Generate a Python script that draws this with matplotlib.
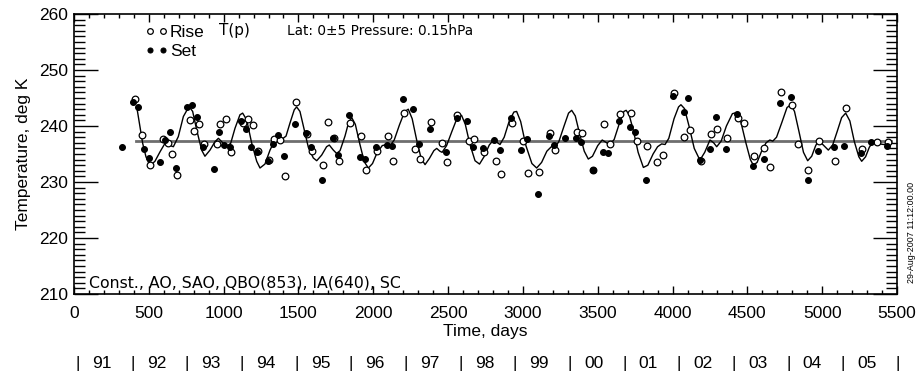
import matplotlib
matplotlib.use("Agg")
import matplotlib.pyplot as plt
import matplotlib.transforms as mtransforms
from matplotlib.ticker import MultipleLocator

# ---------------- data ----------------
rise_days = [410, 452, 510, 593, 630, 655, 690, 775, 804, 838, 869, 953, 978, 1014, 1049,
             1132, 1161, 1194, 1232, 1305, 1336, 1377, 1412, 1484, 1555, 1593, 1662, 1700,
             1737, 1773, 1844, 1918, 1951, 2023, 2098, 2134, 2203, 2277, 2312, 2383, 2459,
             2493, 2562, 2637, 2675, 2742, 2818, 2856, 2927, 2998, 3036, 3108, 3179, 3217,
             3361, 3397, 3471, 3542, 3580, 3649, 3722, 3760, 3827, 3898, 3934, 4010, 4079,
             4117, 4188, 4259, 4295, 4366, 4437, 4475, 4544, 4613, 4651, 4722, 4798, 4836,
             4907, 4976, 5085, 5157, 5264, 5368, 5440]
rise_temp = [244.8, 238.4, 233.1, 237.7, 236.9, 235.0, 231.2, 241.1, 239.1, 240.3, 236.7,
             236.7, 240.3, 241.2, 235.4, 240.5, 241.3, 240.2, 235.6, 233.9, 237.7, 237.5,
             231.0, 244.2, 238.6, 235.6, 233.0, 240.7, 237.9, 233.8, 240.5, 238.2, 232.1,
             235.5, 238.3, 233.8, 242.3, 235.9, 234.1, 240.7, 236.9, 233.5, 242.0, 237.4,
             237.6, 235.3, 233.8, 231.4, 240.6, 237.4, 231.6, 231.7, 238.8, 235.8, 239.0,
             238.8, 232.2, 240.4, 236.8, 242.2, 242.3, 237.3, 236.4, 233.6, 234.9, 245.9,
             238.1, 239.2, 233.8, 238.6, 239.4, 237.8, 241.4, 240.6, 234.7, 236.1, 232.7,
             246.1, 243.8, 236.8, 232.2, 237.3, 233.7, 243.3, 235.9, 237.2, 237.2]

set_days = [321, 392, 428, 468, 501, 575, 611, 644, 682, 753, 789, 822, 860, 933, 969, 1005,
            1042, 1114, 1149, 1185, 1223, 1299, 1330, 1365, 1403, 1475, 1548, 1584, 1655,
            1733, 1764, 1838, 1909, 1947, 2020, 2089, 2127, 2196, 2268, 2306, 2377, 2486,
            2557, 2629, 2666, 2735, 2809, 2847, 2920, 2990, 3025, 3099, 3172, 3208, 3279,
            3355, 3388, 3466, 3533, 3569, 3644, 3713, 3747, 3820, 4001, 4074, 4105, 4183,
            4250, 4288, 4359, 4428, 4538, 4609, 4718, 4791, 4903, 4972, 5079, 5148, 5257,
            5324, 5433]
set_temp = [236.3, 244.2, 243.4, 235.9, 234.3, 233.5, 237.5, 239.0, 232.5, 243.4, 243.7,
            241.6, 236.3, 232.4, 238.95, 236.6, 236.3, 240.9, 239.5, 236.2, 235.3, 233.7,
            236.8, 238.4, 234.6, 240.4, 238.7, 236.3, 230.4, 237.8, 234.85, 241.9, 234.5,
            234.1, 236.2, 236.6, 236.5, 244.9, 243.05, 236.7, 239.4, 235.3, 241.5, 240.9,
            236.3, 236.1, 237.5, 235.8, 241.4, 235.7, 237.7, 227.9, 238.3, 236.6, 237.9,
            237.8, 237.2, 232.2, 235.3, 235.1, 240.9, 239.9, 239.0, 230.3, 245.4, 242.5,
            245.0, 233.95, 235.9, 241.6, 235.9, 242.2, 232.9, 234.1, 244.1, 245.25, 230.3,
            235.6, 236.3, 236.5, 235.2, 237.2, 236.45]

fit_days = [423, 441, 459, 481, 508, 541, 575, 608, 624, 648, 664, 697, 731, 769, 793, 820,
            853, 875, 909, 942, 965, 998, 1020, 1047, 1076, 1109, 1127, 1154, 1187, 1221,
            1243, 1276, 1310, 1343, 1365, 1388, 1417, 1443, 1472, 1488, 1510, 1537, 1566,
            1599, 1622, 1655, 1688, 1706, 1733, 1755, 1778, 1811, 1835, 1856, 1880, 1910,
            1940, 1967, 1995, 2025, 2060, 2089, 2115, 2140, 2175, 2210, 2234, 2260, 2290,
            2320, 2346, 2375, 2405, 2424, 2445, 2460, 2490, 2525, 2560, 2590, 2615, 2645,
            2680, 2710, 2740, 2775, 2807, 2830, 2847, 2875, 2910, 2940, 2958, 2985, 3020,
            3060, 3092, 3125, 3160, 3190, 3214, 3240, 3275, 3305, 3326, 3350, 3380, 3410,
            3437, 3465, 3500, 3530, 3560, 3582, 3610, 3645, 3675, 3690, 3710, 3740, 3770,
            3805, 3835, 3870, 3900, 3927, 3950, 3975, 4010, 4040, 4056, 4080, 4110, 4145,
            4183, 4215, 4250, 4275, 4295, 4325, 4360, 4400, 4428, 4455, 4490, 4520, 4540,
            4565, 4595, 4625, 4650, 4670, 4695, 4730, 4765, 4791, 4815, 4845, 4875, 4903,
            4930, 4955, 4974, 5000, 5041, 5070, 5100, 5130, 5157, 5185, 5215, 5245, 5264,
            5290, 5315, 5340, 5360, 5385, 5410, 5442]
fit_temp = [242.8, 239.9, 236.9, 234.5, 232.9, 233.7, 235.4, 236.9, 237.2, 236.45, 236.3,
            238.1, 241.7, 243.5, 242.6, 239.3, 235.7, 234.6, 235.7, 237.2, 237.8, 236.9,
            236.4, 236.9, 239.6, 242.0, 242.3, 241.1, 237.0, 233.7, 232.5, 233.2, 235.7,
            237.5, 237.9, 237.6, 238.2, 240.5, 242.9, 243.4, 242.6, 239.5, 236.2, 234.3,
            233.8, 234.8, 236.3, 236.6, 235.7, 235.1, 235.6, 238.2, 240.6, 241.5, 240.3,
            236.8, 233.6, 232.5, 233.3, 235.2, 236.5, 236.7, 236.6, 237.5, 240.2, 242.6,
            243.0, 241.3, 237.5, 234.2, 233.1, 234.2, 235.6, 236.0, 235.5, 235.3, 236.5,
            239.0, 241.4, 241.9, 240.3, 236.8, 233.8, 233.2, 234.5, 236.6, 237.6, 237.0,
            236.7, 238.0, 241.0, 242.5, 242.6, 240.8, 236.5, 233.3, 232.5, 233.5, 235.5,
            236.3, 236.2, 237.2, 240.0, 242.3, 242.8, 241.8, 238.5, 235.5, 234.1, 234.6,
            236.5, 237.5, 237.0, 236.7, 237.6, 240.5, 242.6, 242.8, 242.0, 239.0, 235.3,
            232.6, 233.0, 235.0, 236.3, 236.8, 236.7, 237.8, 241.3, 243.4, 243.8, 243.1,
            240.0, 236.0, 233.9, 235.3, 237.5, 237.0, 236.3, 237.3, 240.0, 242.2, 242.4,
            240.9, 237.0, 234.0, 233.0, 233.5, 235.5, 237.0, 237.5, 237.3, 238.0, 240.6,
            243.3, 243.8, 242.6, 239.0, 235.3, 233.8, 234.6, 236.4, 237.4, 236.8, 235.7,
            236.6, 239.0, 241.5, 242.3, 240.9, 237.2, 234.5, 233.7, 234.5, 236.2, 237.2,
            237.3, 236.8, 236.7, 236.8]

mean_days = [415, 5460]
mean_temp = [237.3, 237.3]

year_labels = ["91", "92", "93", "94", "95", "96", "97", "98", "99", "00", "01", "02",
               "03", "04", "05"]
year_start_day = 25
year_len = 365.25

# ---------------- figure ----------------
plt.rcParams['font.family'] = ['Liberation Sans', 'DejaVu Sans']
fig = plt.figure(figsize=(9.19, 3.71), dpi=100)
ax = fig.add_axes([74/919, 1-294/371, (897-74)/919, (294-14)/371])

ax.plot(mean_days, mean_temp, color='#6e6e6e', lw=2.0, zorder=1)
ax.plot(fit_days, fit_temp, color='black', lw=1.0, zorder=2)
ax.plot(rise_days, rise_temp, linestyle='none', marker='o', ms=4.8, mfc='white',
        mec='black', mew=0.9, zorder=3, label='Rise')
ax.plot(set_days, set_temp, linestyle='none', marker='o', ms=4.2, mfc='black',
        mec='black', mew=0.8, zorder=3, label='Set')

ax.set_xlim(0, 5500)
ax.set_ylim(210, 260)
ax.xaxis.set_major_locator(MultipleLocator(500))
ax.xaxis.set_minor_locator(MultipleLocator(100))
ax.yaxis.set_major_locator(MultipleLocator(10))
ax.yaxis.set_minor_locator(MultipleLocator(1))
ax.tick_params(axis='both', which='both', direction='in', top=True, right=True,
               width=1.0, color='black')
ax.tick_params(axis='x', which='major', length=6, pad=9, labelsize=12.5)
ax.tick_params(axis='x', which='minor', length=3)
ax.tick_params(axis='y', which='major', length=17, pad=4, labelsize=12.5)
ax.tick_params(axis='y', which='minor', length=8)
for s in ax.spines.values():
    s.set_linewidth(1.2)

ax.set_xlabel('Time, days', fontsize=12.5, labelpad=2)
ax.set_ylabel('Temperature, deg K', fontsize=12.5, labelpad=6)

leg = ax.legend(loc='upper left', bbox_to_anchor=(0.077, 0.985), numpoints=2,
                handlelength=1.35, handletextpad=0.12, labelspacing=0.22,
                frameon=False, fontsize=12.5, borderaxespad=0.0, markerscale=0.85)

thin = ['DejaVu Sans']
ax.text(0.176, 0.941, 'T(p)', transform=ax.transAxes, fontsize=11, family=thin,
        va='center', ha='left')
ax.text(0.259, 0.941, 'Lat: 0\u00b15 Pressure: 0.15hPa', transform=ax.transAxes,
        fontsize=9.8, family=thin, va='center', ha='left')
ax.text(0.018, 0.012, 'Const., AO, SAO, QBO(853), IA(640), SC', transform=ax.transAxes,
        fontsize=11.3, family=thin, va='bottom', ha='left')

fig.text(912/919, 1-232/371, '29-Aug-2007 11:12:00.00', rotation=90, fontsize=6.4,
         ha='center', va='center')

trans = mtransforms.blended_transform_factory(ax.transData, fig.transFigure)
yy = 1 - 363.5/371
for k in range(len(year_labels) + 1):
    d = year_start_day + k * year_len
    ax.text(d, yy, '|', transform=trans, fontsize=12.5, ha='center', va='center',
            clip_on=False)
for k, lab in enumerate(year_labels):
    d = year_start_day + (k + 0.5) * year_len - 22
    ax.text(d, yy, lab, transform=trans, fontsize=12.5, ha='center', va='center',
            clip_on=False)

fig.savefig('out.png', dpi=100)
